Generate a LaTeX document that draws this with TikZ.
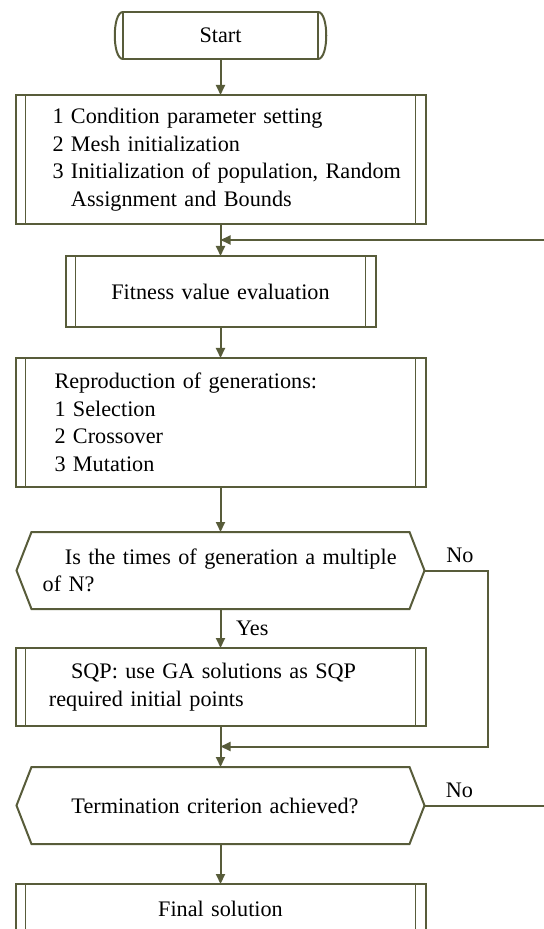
\documentclass[tikz,border=0pt]{standalone}
\usepackage{fontspec}
\setmainfont{Liberation Serif}
\usetikzlibrary{positioning,arrows.meta,calc}
\definecolor{flowline}{RGB}{88,92,58}

\begin{document}
\begin{tikzpicture}[
    line width=1pt,
    font=\fontsize{11.1pt}{13.75pt}\selectfont,
    flow/.style={draw=flowline, line width=1pt},
    flowarrow/.style={flow, -{Triangle[length=5pt, width=4.5pt]}},
    terminal/.style={flow, outer sep=0pt, minimum width=97.5pt, minimum height=23.5pt},
    process/.style={flow, outer sep=0pt, minimum width=205pt, text width=197pt, align=center, inner xsep=4pt, inner ysep=0pt,
        path picture={\draw[flowline, line width=0.8pt]
            ([xshift=5pt]path picture bounding box.north west) -- ([xshift=5pt]path picture bounding box.south west)
            ([xshift=-5pt]path picture bounding box.north east) -- ([xshift=-5pt]path picture bounding box.south east);}},
    decision/.style={outer sep=0pt, minimum width=189pt, minimum height=38.5pt, text width=181pt, inner xsep=4pt, inner ysep=0pt},
    lefttext/.style={align=left, execute at begin node={\leftskip=#1\relax}}
]
\useasboundingbox (0,0) rectangle (272pt,-464.5pt);

\node[terminal] (start) at (110.25pt,-17.75pt) {Start};
\node[process, lefttext=14.5pt, minimum height=64.5pt, below=18pt of start] (init)
    {1 Condition parameter setting\\ 2 Mesh initialization\\ 3 Initialization of population, Random\\ \hphantom{3} Assignment and Bounds};
\node[process, minimum width=155pt, text width=147pt, minimum height=35.5pt, below=16pt of init] (fitness) {Fitness value evaluation};
\node[process, lefttext=15.5pt, minimum height=64.5pt, below=15.5pt of fitness] (repro)
    {Reproduction of generations:\\ 1 Selection\\ 2 Crossover\\ 3 Mutation};
\node[decision, lefttext=1.6pt, below=22.5pt of repro] (gencheck)
    {\hspace*{1em}Is the times of generation a multiple\\ of N?};
\node[process, lefttext=12.7pt, minimum height=39pt, below=19.5pt of gencheck] (sqp)
    {\hspace*{1em}SQP: use GA solutions as SQP\\ required initial points};
\node[decision, lefttext=16pt, below=20.5pt of sqp] (termcheck) {Termination criterion achieved?};
\node[process, minimum height=25pt, below=20pt of termcheck] (final) {Final solution};

% hexagon outlines and rounded ends of Start
\foreach \n in {gencheck,termcheck}
  \draw[flow] (\n.north west) -- (\n.north east) -- ([xshift=7.5pt]\n.east) -- (\n.south east)
    -- (\n.south west) -- ([xshift=-7.5pt]\n.west) -- cycle;
\draw[flow] (start.north west) .. controls ([xshift=-5.5pt]start.north west) and ([xshift=-5.5pt]start.south west) .. (start.south west)
  (start.north east) .. controls ([xshift=5.5pt]start.north east) and ([xshift=5.5pt]start.south east) .. (start.south east);

\coordinate (loopin) at ($(init.south)!0.5!(fitness.north)$);
\coordinate (mergein) at ($(sqp.south)!0.5!(termcheck.north)$);
\coordinate (genno) at ([xshift=7.5pt]gencheck.east);
\coordinate (termno) at ([xshift=7.5pt]termcheck.east);

\draw[flowarrow] (start) -- (init);
\draw[flowarrow] (init) -- (fitness);
\draw[flowarrow] (fitness) -- (repro);
\draw[flowarrow] (repro) -- (gencheck);
\draw[flowarrow] (gencheck) -- node[right=4pt] {Yes} (sqp);
\draw[flowarrow] (sqp) -- (termcheck);
\draw[flowarrow] (termcheck) -- (final);
\draw[flowarrow] (genno) -- node[above, xshift=2pt] {No} ++(31.5pt,0) |- (mergein);
\draw[flowarrow] (termno) -- node[above, pos=0.25] {No} ++(70pt,0) |- (loopin);
\end{tikzpicture}
\end{document}
